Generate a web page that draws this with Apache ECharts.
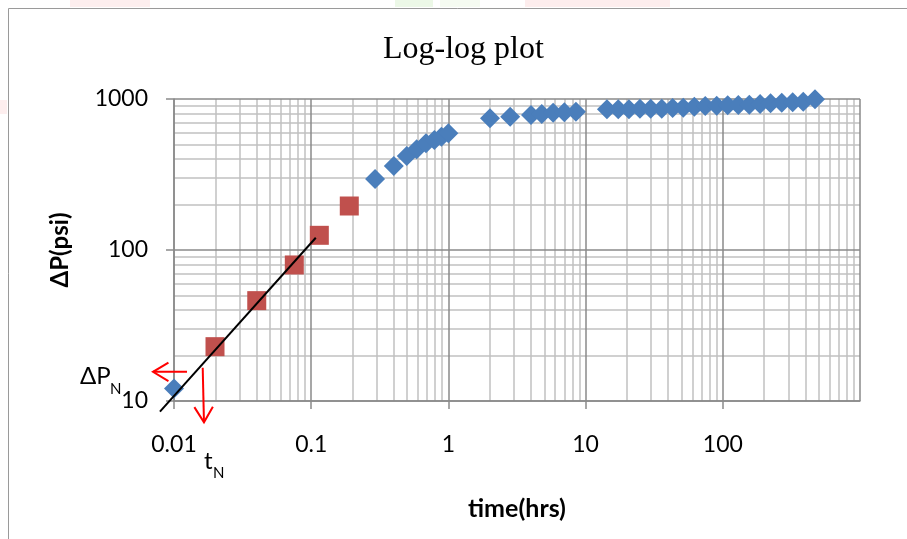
<!DOCTYPE html>
<html>
<head>
<meta charset="utf-8">
<script src="https://cdn.jsdelivr.net/npm/echarts@6/dist/echarts.min.js"></script>
<style>
  html, body { margin: 0; padding: 0; background: #ffffff; }
  #chart { width: 907px; height: 539px; }
</style>
</head>
<body>
<div id="chart"></div>
<script>
// Pressure build-up test on log-log axes: elapsed time (hrs) vs pressure change (psi)

// Radial-flow / late-time points (blue diamonds)
const flowTime = [0.01, 0.292, 0.40, 0.497, 0.587, 0.687, 0.79, 0.89, 1.0,
  2.01, 2.82, 4.0, 4.79, 5.8, 7.0, 8.5,
  14.3, 17.3, 20.7, 24.9, 29.8, 35.9, 43.1, 51.5, 62.0, 74.5,
  90.3, 108.6, 129.7, 156, 187, 223, 269, 323, 386, 470];
const flowDP = [12.1, 295, 360, 420, 464, 509, 535, 563, 593,
  745, 764, 783, 796, 811, 816, 824,
  855, 855, 855, 863, 863, 863, 872, 876, 889, 898,
  903, 908, 913, 917, 927, 937, 945, 951, 960, 995];

// Wellbore-storage points (red squares)
const storageTime = [0.0199, 0.0401, 0.0753, 0.1146, 0.1895];
const storageDP = [22.9, 46.2, 79.6, 125.1, 195.6];

// Unit-slope straight line through the storage points
const slopeTime = [0.0079, 0.108];
const slopeDP = [8.5, 120.5];

// Axis ranges and the minor log grid multipliers
const xRange = [0.01, 1000];
const yRange = [10, 1000];
const minorSteps = [2, 3, 4, 5, 6, 7, 8, 9];

// Annotation anchors (time, dP) for the tN / dPN arrows
const dpnArrow = { from: [0.01244, 15.6], to: [0.00703, 15.6] };
const tnArrow = { from: [0.01619, 16.6], to: [0.01654, 7.22] };

function decadeMinors(lo, hi) {
  const out = [];
  for (let d = lo; d < hi * 0.999; d *= 10) {
    minorSteps.forEach(m => out.push(+(d * m).toPrecision(6)));
  }
  return out;
}

const pairs = (xs, ys) => xs.map((x, i) => [x, ys[i]]);
const fmt = v => String(parseFloat(Number(v).toPrecision(3)));

const MAJOR = '#8a8a8a';
const MINOR = '#c0c0c0';
const LABEL_FONT = 'Lato, "Open Sans", sans-serif';

const chart = echarts.init(document.getElementById('chart'), null, { renderer: 'canvas' });

const minorLines = []
  .concat(decadeMinors(xRange[0], xRange[1]).map(v => ({ xAxis: v })))
  .concat(decadeMinors(yRange[0], yRange[1]).map(v => ({ yAxis: v })));

chart.setOption({
  animation: false,
  backgroundColor: '#ffffff',
  title: {
    text: 'Log-log plot',
    left: 378,
    top: 29,
    textStyle: { fontFamily: '"Liberation Serif", "Times New Roman", serif', fontWeight: 'normal', fontSize: 32, color: '#000' }
  },
  grid: { left: 174, right: 47, top: 99, bottom: 138, containLabel: false },
  xAxis: {
    type: 'log', logBase: 10, min: xRange[0], max: xRange[1], z: 2,
    name: 'time(hrs)', nameLocation: 'middle', nameGap: 95,
    nameTextStyle: { fontFamily: LABEL_FONT, fontWeight: 'bold', fontSize: 25, color: '#000' },
    axisLine: { show: true, lineStyle: { color: MAJOR, width: 1.5 } },
    axisTick: { show: true, inside: false, length: 8, lineStyle: { color: MAJOR, width: 1.5 } },
    axisLabel: { margin: 32, showMaxLabel: false, formatter: fmt, fontFamily: LABEL_FONT, fontSize: 23, color: '#000' },
    splitLine: { show: true, lineStyle: { color: MAJOR, width: 1.5 } },
    minorTick: { show: false }, minorSplitLine: { show: false }
  },
  yAxis: {
    type: 'log', logBase: 10, min: yRange[0], max: yRange[1], z: 2,
    name: 'ΔP(psi)', nameLocation: 'middle', nameGap: 102, nameRotate: 90,
    nameTextStyle: { fontFamily: LABEL_FONT, fontWeight: 'bold', fontSize: 24, color: '#000' },
    axisLine: { show: true, lineStyle: { color: MAJOR, width: 1.5 } },
    axisTick: { show: true, inside: false, length: 8, lineStyle: { color: MAJOR, width: 1.5 } },
    axisLabel: { margin: 26, formatter: fmt, fontFamily: LABEL_FONT, fontSize: 23, color: '#000' },
    splitLine: { show: true, lineStyle: { color: MAJOR, width: 1.5 } },
    minorTick: { show: false }, minorSplitLine: { show: false }
  },
  series: [
    {
      name: 'minor grid', type: 'scatter', data: [], silent: true, z: 1,
      markLine: {
        silent: true, z: 1, animation: false, symbol: ['none', 'none'],
        label: { show: false },
        lineStyle: { color: MINOR, width: 1.5, type: 'solid' },
        emphasis: { disabled: true },
        data: minorLines
      }
    },
    {
      name: 'storage', type: 'scatter', data: pairs(storageTime, storageDP), z: 3,
      symbol: 'rect', symbolSize: 19,
      itemStyle: { color: '#C0504D', opacity: 1 }
    },
    {
      name: 'flow', type: 'scatter', data: pairs(flowTime, flowDP), z: 3, clip: false,
      symbol: 'diamond', symbolSize: 20,
      itemStyle: { color: '#4A7EBB', opacity: 1 }
    }
  ]
});

// Pixel position of a (time, dP) pair on the grid's log scales
const px = p => chart.convertToPixel({ gridIndex: 0 }, p);

// Open-headed red arrow from one (time, dP) anchor to another
function arrow(a) {
  const p0 = px(a.from);
  const p1 = px(a.to);
  const ang = Math.atan2(p1[1] - p0[1], p1[0] - p0[0]);
  const len = 18, spread = 0.54;
  const w1 = [p1[0] - len * Math.cos(ang - spread), p1[1] - len * Math.sin(ang - spread)];
  const w2 = [p1[0] - len * Math.cos(ang + spread), p1[1] - len * Math.sin(ang + spread)];
  const style = { stroke: '#ff0000', lineWidth: 2, fill: null };
  return [
    { type: 'polyline', shape: { points: [p0, p1] }, style, z: 10, silent: true },
    { type: 'polyline', shape: { points: [w1, p1, w2] }, style, z: 10, silent: true }
  ];
}

// Unit-slope line, extended past the lower-left corner of the grid
const slopeLine = {
  type: 'polyline', z: 9, silent: true,
  shape: { points: pairs(slopeTime, slopeDP).map(px) },
  style: { stroke: '#000000', lineWidth: 2, fill: null }
};

const annoFont = LABEL_FONT;
chart.setOption({
  graphic: [
    // faint coloured fragments above the frame
    { type: 'rect', shape: { x: 70, y: 0, width: 80, height: 7 }, style: { fill: 'rgba(240,150,150,0.16)' }, silent: true },
    { type: 'rect', shape: { x: 395, y: 0, width: 38, height: 7 }, style: { fill: 'rgba(150,215,120,0.18)' }, silent: true },
    { type: 'rect', shape: { x: 440, y: 0, width: 40, height: 7 }, style: { fill: 'rgba(190,230,160,0.15)' }, silent: true },
    { type: 'rect', shape: { x: 525, y: 0, width: 145, height: 7 }, style: { fill: 'rgba(240,140,140,0.16)' }, silent: true },
    { type: 'rect', shape: { x: 0, y: 100, width: 7, height: 14 }, style: { fill: 'rgba(240,150,150,0.16)' }, silent: true },
    // chart frame
    { type: 'polyline', shape: { points: [[8.5, 539], [8.5, 8.5], [907, 8.5]] }, style: { stroke: '#9a9a9a', lineWidth: 1, fill: null }, silent: true },
    slopeLine,
    // annotation labels
    { type: 'text', x: 80, y: 376, style: { text: 'ΔP', font: '24px ' + annoFont, fill: '#000', verticalAlign: 'middle' }, silent: true },
    { type: 'text', x: 110, y: 389, style: { text: 'N', font: '15px ' + annoFont, fill: '#000', verticalAlign: 'middle' }, silent: true },
    { type: 'text', x: 204, y: 461, style: { text: 't', font: '24px ' + annoFont, fill: '#000', verticalAlign: 'middle' }, silent: true },
    { type: 'text', x: 213, y: 473, style: { text: 'N', font: '15px ' + annoFont, fill: '#000', verticalAlign: 'middle' }, silent: true }
  ].concat(arrow(dpnArrow), arrow(tnArrow))
});
</script>
</body>
</html>
